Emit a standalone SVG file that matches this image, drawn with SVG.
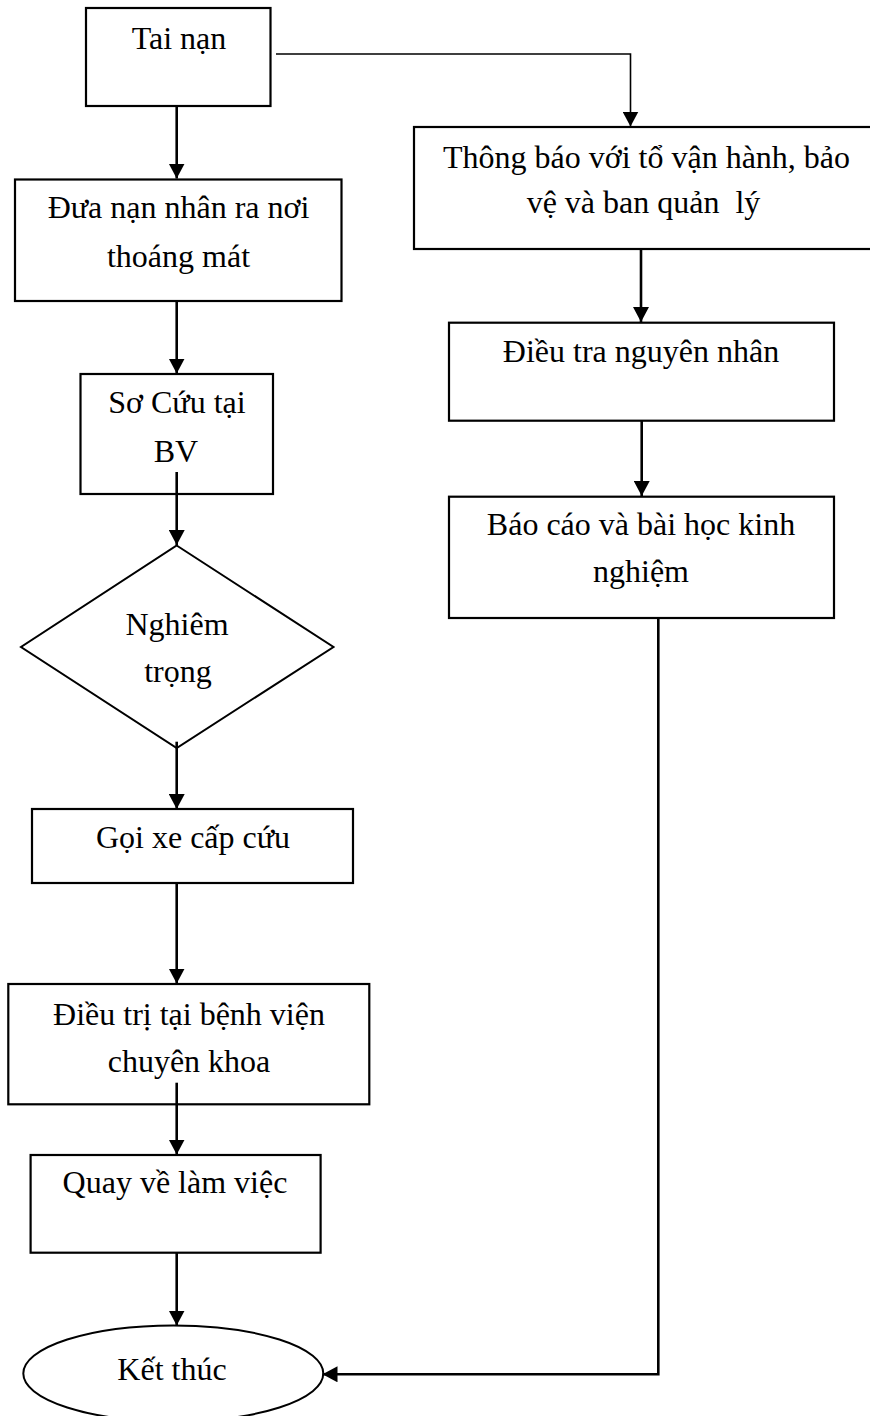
<svg xmlns="http://www.w3.org/2000/svg" width="870" height="1416" viewBox="0 0 870 1416">
  <defs>
    <marker id="arrow" markerUnits="userSpaceOnUse" markerWidth="16" markerHeight="16" refX="15" refY="8" orient="auto">
      <path d="M0,0 L15,8 L0,16 z" fill="#000"/>
    </marker>
    <style>
      .box { fill: #fff; stroke: #000; stroke-width: 2.2; }
      .shape { fill: #fff; stroke: #000; stroke-width: 2; }
      .lbl { font-family: "Liberation Serif", "Times New Roman", serif; font-size: 32px; fill: #000; text-anchor: middle; }
      .link { fill: none; stroke: #000; stroke-width: 2.6; }
      .thin { fill: none; stroke: #000; stroke-width: 1.6; }
    </style>
  </defs>
  <rect width="870" height="1416" fill="#fff"/>

  <!-- left column -->
  <g id="tai-nan">
    <rect class="box" x="86" y="8" width="184.5" height="98"/>
    <text class="lbl" x="179" y="48.5">Tai nạn</text>
  </g>
  <g id="dua-nan-nhan">
    <rect class="box" x="15" y="179.5" width="326.5" height="121.5"/>
    <text class="lbl" x="178.5" y="218">Đưa nạn nhân ra nơi</text>
    <text class="lbl" x="178.5" y="267">thoáng mát</text>
  </g>
  <g id="so-cuu">
    <rect class="box" x="80.5" y="374" width="192.5" height="120"/>
    <text class="lbl" x="177" y="413">Sơ Cứu tại</text>
    <text class="lbl" x="176" y="462">BV</text>
  </g>
  <g id="nghiem-trong">
    <polygon class="shape" points="176.7,545.5 333.5,647 176.7,748 21,647"/>
    <text class="lbl" x="177" y="635">Nghiêm</text>
    <text class="lbl" x="178" y="682">trọng</text>
  </g>
  <g id="goi-xe">
    <rect class="box" x="32" y="809" width="321" height="74"/>
    <text class="lbl" x="193" y="848">Gọi xe cấp cứu</text>
  </g>
  <g id="dieu-tri">
    <rect class="box" x="8.3" y="984" width="361" height="120.3"/>
    <text class="lbl" x="189" y="1025">Điều trị tại bệnh viện</text>
    <text class="lbl" x="189" y="1071.7">chuyên khoa</text>
  </g>
  <g id="quay-ve">
    <rect class="box" x="30.6" y="1155" width="290" height="97.7"/>
    <text class="lbl" x="175" y="1193">Quay về làm việc</text>
  </g>
  <g id="ket-thuc">
    <ellipse class="shape" cx="173.3" cy="1373.5" rx="150" ry="48"/>
    <text class="lbl" x="172" y="1380">Kết thúc</text>
  </g>

  <!-- right column -->
  <g id="thong-bao">
    <rect class="box" x="414" y="127" width="460" height="122"/>
    <text class="lbl" x="646.5" y="168">Thông báo với tổ vận hành, bảo</text>
    <text class="lbl" x="643.5" y="213" xml:space="preserve">vệ và ban quản  lý</text>
  </g>
  <g id="dieu-tra">
    <rect class="box" x="449" y="322.7" width="385" height="98"/>
    <text class="lbl" x="641" y="361.7">Điều tra nguyên nhân</text>
  </g>
  <g id="bao-cao">
    <rect class="box" x="449" y="496.7" width="385" height="121.3"/>
    <text class="lbl" x="641" y="535">Báo cáo và bài học kinh</text>
    <text class="lbl" x="641" y="581.7">nghiệm</text>
  </g>

  <!-- connectors -->
  <g id="connectors">
    <line class="link" x1="176.7" y1="106" x2="176.7" y2="178.5" marker-end="url(#arrow)"/>
    <line class="link" x1="176.7" y1="301" x2="176.7" y2="373.5" marker-end="url(#arrow)"/>
    <line class="link" x1="176.7" y1="472" x2="176.7" y2="545" marker-end="url(#arrow)"/>
    <line class="link" x1="176.7" y1="741.7" x2="176.7" y2="809" marker-end="url(#arrow)"/>
    <line class="link" x1="176.7" y1="883" x2="176.7" y2="983.5" marker-end="url(#arrow)"/>
    <line class="link" x1="176.7" y1="1082.7" x2="176.7" y2="1154.5" marker-end="url(#arrow)"/>
    <line class="link" x1="176.7" y1="1252.7" x2="176.7" y2="1325.5" marker-end="url(#arrow)"/>
    <polyline class="thin" points="276,54 630.5,54 630.5,126.5" marker-end="url(#arrow)"/>
    <line class="link" x1="641" y1="249" x2="641" y2="322" marker-end="url(#arrow)"/>
    <line class="link" x1="641.7" y1="420.7" x2="641.7" y2="496" marker-end="url(#arrow)"/>
    <polyline class="link" points="658.3,618 658.3,1374.3 322.5,1374.3" marker-end="url(#arrow)"/>
  </g>
</svg>
